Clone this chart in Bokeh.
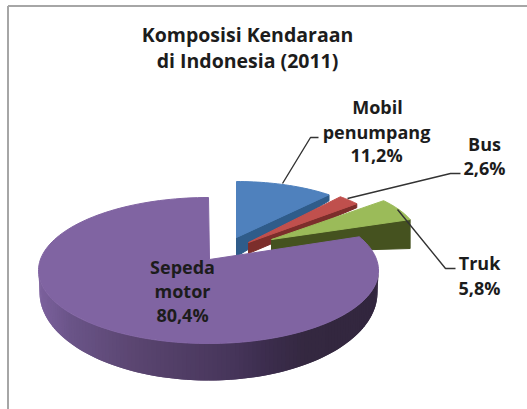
import math
from bokeh.plotting import figure
from bokeh.embed import file_html
from bokeh.resources import INLINE
from bokeh.core.properties import value
from bokeh.models import Range1d

title_lines = ["Komposisi Kendaraan", "di Indonesia (2011)"]
categories = ["Mobil penumpang", "Bus", "Truk", "Sepeda motor"]
shares = [11.2, 2.6, 5.8, 80.4]
share_labels = ["11,2%", "2,6%", "5,8%", "80,4%"]

# layout (reference pixels): cx, cy, a, b, apex depth, outer depth
flat = {
    "Mobil penumpang": (236, 237, 143, 56, 19, 6),
    "Bus": (248, 242, 142, 60, 11, 4),
    "Truk": (271, 239, 147, 60, 13, 29),
}
top_colors = ["#4f81bd", "#c0504d", "#9bbb59"]
wall_colors = ["#2f5c8a", "#7c2e2b", "#45521f"]
PURPLE = "#8064a2"
W, H = 527, 409

p = figure(width=W, height=H, output_backend="svg", toolbar_location=None,
           x_range=Range1d(0, W), y_range=Range1d(H, 0),
           min_border=0, outline_line_color=None, x_axis_type=None, y_axis_type=None)
p.grid.visible = False
p.styles = {"position": "absolute", "left": "0px", "top": "0px"}

# frame
p.line([7.5, 7.5], [409, 5.5], line_color="#a6a6a6", line_width=2)
p.line([7.5, 527], [5.5, 5.5], line_color="#a6a6a6", line_width=2)

# exploded small slices
cum = 0
for name, s, tc, wc in zip(categories[:3], shares[:3], top_colors, wall_colors):
    t0 = math.radians(cum * 3.6)
    t1 = math.radians((cum + s) * 3.6)
    cum += s
    cx, cy, a, b, d0, d1 = flat[name]
    ox, oy = cx + a * math.sin(t1), cy - b * math.cos(t1)
    p.patch([cx, ox, ox, cx], [cy, oy, oy + d1, cy + d0], fill_color=wc, line_color=wc)
    n = 24
    xs = [cx] + [cx + a * math.sin(t0 + (t1 - t0) * i / n) for i in range(n + 1)]
    ys = [cy] + [cy - b * math.cos(t0 + (t1 - t0) * i / n) for i in range(n + 1)]
    p.patch(xs, ys, fill_color=tc, line_color=tc)

# big slice
ECX, ECY, EA, EB = 208, 270, 170, 73      # top ellipse
BCX, BCY, BA, BB = 208, 292, 169, 88      # bottom ellipse
APX, APY = 209, 259
end_t = sum(shares[:3]) * 3.6
dx, dy = EA * math.sin(math.radians(end_t)), -EB * math.cos(math.radians(end_t))
ux, uy = dx / EA, dy / EB
vx, vy = (APX - ECX) / EA, (APY - ECY) / EB
A = ux * ux + uy * uy
B = 2 * (ux * vx + uy * vy)
C = vx * vx + vy * vy - 1
k = (-B + math.sqrt(B * B - 4 * A * C)) / (2 * A)
ex, ey = APX + k * dx, APY + k * dy
ang0 = math.atan2(ex - ECX, -(ey - ECY) * EA / EB)

# wall strips, each overlapping the next so no seams show
stops = [(0.0, (124, 97, 157)), (0.09, (106, 84, 136)), (0.28, (90, 69, 112)),
         (0.57, (70, 53, 90)), (0.66, (60, 45, 78)), (0.78, (52, 40, 64)), (1.0, (50, 38, 62))]
def shade(f):
    for (f0, c0), (f1, c1) in zip(stops, stops[1:]):
        if f <= f1:
            w = (f - f0) / (f1 - f0)
            return "#%02x%02x%02x" % tuple(round(c0[j] + (c1[j] - c0[j]) * w) for j in range(3))
    return "#32263e"

N = 120
for i in range(N):
    a0 = math.radians(270 - 180 * i / N)
    a1 = math.radians(max(90, 270 - 180 * (i + 2) / N))
    xs = [ECX + EA * math.sin(a0), ECX + EA * math.sin(a1), BCX + BA * math.sin(a1), BCX + BA * math.sin(a0)]
    ys = [ECY - EB * math.cos(a0), ECY - EB * math.cos(a1), BCY - BB * math.cos(a1), BCY - BB * math.cos(a0)]
    c = shade(max(0.0, min(1.0, (xs[0] - (ECX - EA)) / (2 * EA))))
    p.patch(xs, ys, fill_color=c, line_color=None)

n = 160
px, py = [APX], [APY]
for i in range(n + 1):
    t = ang0 + (2 * math.pi - ang0) * i / n
    px.append(ECX + EA * math.sin(t))
    py.append(ECY - EB * math.cos(t))
p.patch(px, py, fill_color=PURPLE, line_color=PURPLE)

# leader lines
LEAD = "#333333"
p.line([282, 310, 318], [183, 137, 137], line_color=LEAD, line_width=1.4)
p.line([347, 450, 460], [198, 173, 173], line_color=LEAD, line_width=1.4)
p.line([397, 445, 455], [209, 268, 268], line_color=LEAD, line_width=1.4)

FONT = value("Open Sans")
def label(x, y, t, size):
    p.text([x], [y], text=[t], text_font=FONT, text_font_style="bold", text_font_size=size,
           text_align="center", text_baseline="middle", text_color="#1c1c1c")

label(247, 34, title_lines[0], "19.5px")
label(247, 60, title_lines[1], "19.5px")
S = "18px"
label(377, 106, "Mobil", S)
label(376, 131, "penumpang", S)
label(376, 154, share_labels[0], S)
label(484, 143, categories[1], S)
label(484, 167, share_labels[1], S)
label(479, 262, categories[2], S)
label(479, 287, share_labels[2], S)
label(182, 266, "Sepeda", S)
label(182, 290, "motor", S)
label(182, 314, share_labels[3], S)

open("out.html", "w").write(file_html(p, INLINE))
